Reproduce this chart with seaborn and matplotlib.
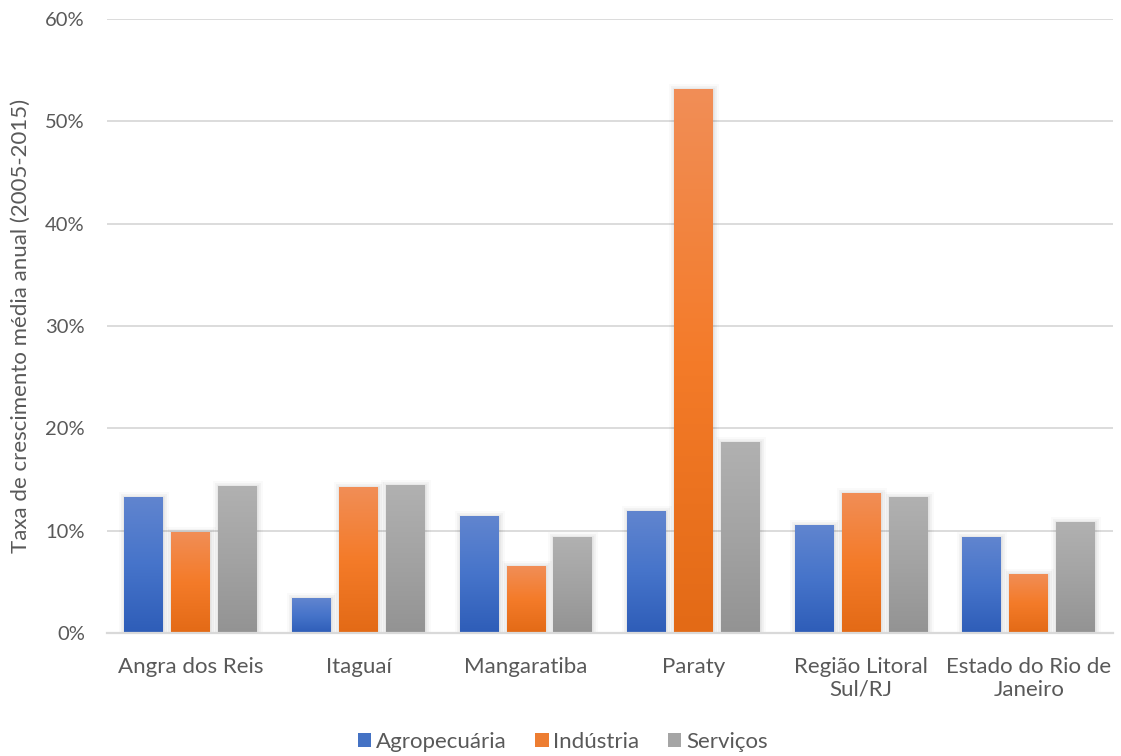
import numpy as np
import pandas as pd
import matplotlib
matplotlib.use("Agg")
import matplotlib.pyplot as plt
import matplotlib.patheffects as pe
from matplotlib.colors import LinearSegmentedColormap
from matplotlib.patches import Patch
import seaborn as sns

categories = ["Angra dos Reis", "Itaguaí", "Mangaratiba", "Paraty",
              "Região Litoral\nSul/RJ", "Estado do Rio de\nJaneiro"]
sectors = ["Agropecuária", "Indústria", "Serviços"]
agropecuaria = [13.3, 3.4, 11.4, 11.9, 10.6, 9.4]
industria = [9.9, 14.3, 6.5, 53.2, 13.7, 5.8]
servicos = [14.4, 14.5, 9.4, 18.7, 13.3, 10.8]

df = pd.DataFrame({
    "Município": categories * 3,
    "Setor": [s for s in sectors for _ in categories],
    "Taxa": agropecuaria + industria + servicos,
})

# top / middle / bottom shades of each sector's gradient
gradients = {
    "Agropecuária": ["#6185CF", "#4674CA", "#2E5DB8"],
    "Indústria": ["#F18E57", "#F47B29", "#E36A16"],
    "Serviços": ["#B1B1B1", "#A3A3A3", "#939393"],
}
solid = {"Agropecuária": "#4472C4", "Indústria": "#ED7D31", "Serviços": "#A5A5A5"}

sns.set_theme(style="white")
plt.rcParams["font.family"] = ["Lato", "DejaVu Sans"]
text_color = "#595959"

fig = plt.figure(figsize=(11.21, 7.56), dpi=100)
ax = fig.add_axes([0.0955, 0.1627, 0.897, 0.8122])

sns.barplot(data=df, x="Município", y="Taxa", hue="Setor", palette=solid,
            width=0.84, gap=0.17, legend=False, ax=ax, zorder=3)

# soft halo around each bar
shadow = [pe.Stroke(linewidth=8, foreground="#000000", alpha=0.02),
          pe.Stroke(linewidth=5, foreground="#000000", alpha=0.03),
          pe.Stroke(linewidth=2.5, foreground="#000000", alpha=0.04),
          pe.Normal()]

grad_y = np.linspace(0, 1, 256).reshape(-1, 1)
for container, sector in zip(ax.containers, sectors):
    cmap = LinearSegmentedColormap.from_list(sector, gradients[sector][::-1])
    for bar in container:
        x0, y0 = bar.get_x(), bar.get_y()
        w, h = bar.get_width(), bar.get_height()
        bar.set_path_effects(shadow)
        bar.set_edgecolor("none")
        img = ax.imshow(grad_y, cmap=cmap, origin="lower", aspect="auto",
                        extent=(x0, x0 + w, y0, y0 + h), zorder=4,
                        interpolation="bicubic")
        img.set_clip_path(bar)

ax.set_xlim(-0.5, len(categories) - 0.5)
ax.set_ylim(0, 60)

ax.set_yticks(np.arange(0, 61, 10))
ax.set_yticklabels([f"{v}%" for v in range(0, 61, 10)])
ax.yaxis.grid(True, color="#D9D9D9", linewidth=1.3, zorder=0)
ax.set_axisbelow(True)
for side in ["top", "right", "left"]:
    ax.spines[side].set_visible(False)
ax.spines["bottom"].set_color("#D9D9D9")
ax.spines["bottom"].set_linewidth(1.6)
ax.spines["bottom"].set_zorder(5)

ax.tick_params(axis="both", length=0, colors=text_color)
ax.tick_params(axis="x", pad=17, labelsize=16)
ax.tick_params(axis="y", pad=16, labelsize=14.5)
ax.set_xlabel("")
ax.set_ylabel("Taxa de crescimento média anual (2005-2015)", fontsize=16,
              color=text_color)
ax.yaxis.set_label_coords(-0.076, 0.5)

handles = [Patch(facecolor=solid[s], edgecolor="none") for s in sectors]
fig.legend(handles, sectors, loc="center", bbox_to_anchor=(0.502, 0.019),
           ncol=3, frameon=False, fontsize=16, handlelength=0.6,
           handleheight=0.6, handletextpad=0.2, columnspacing=1.3,
           labelcolor=text_color)

fig.savefig("out.png", dpi=100)
